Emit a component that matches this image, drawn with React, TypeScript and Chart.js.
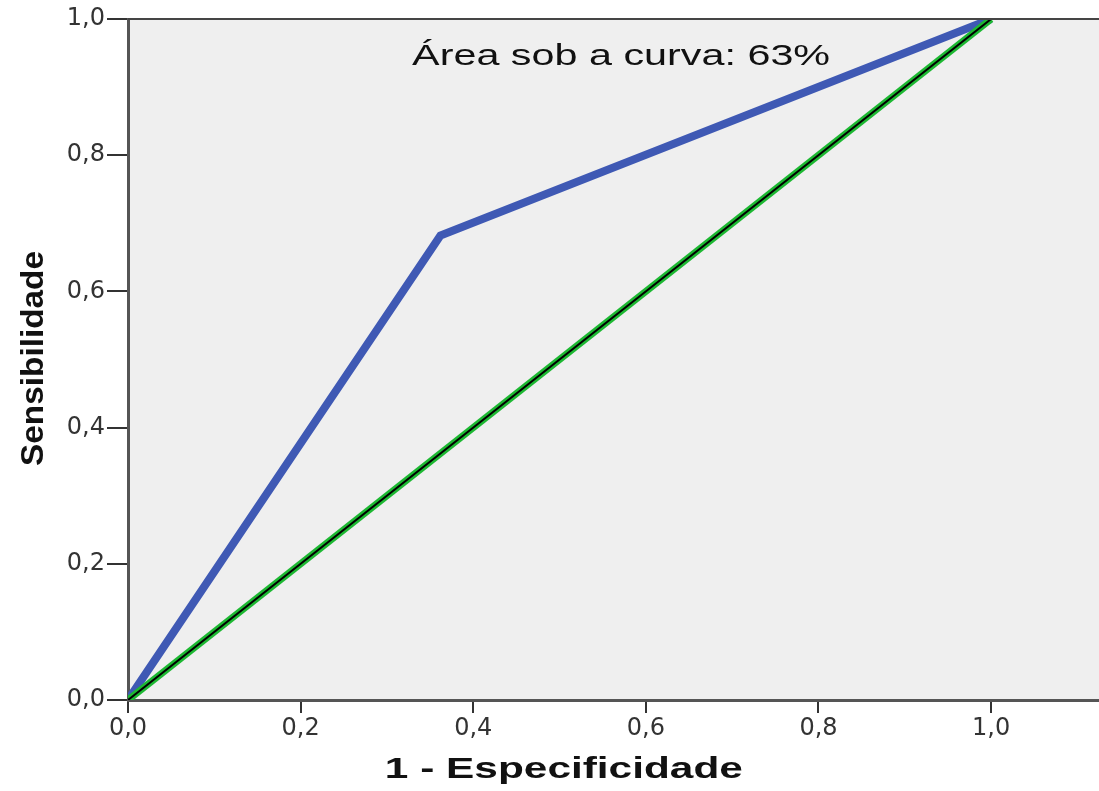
import { useEffect, useRef } from 'react';
import { Chart, registerables } from 'chart.js';

Chart.register(...registerables);

// ---- data ----
const rocX = [0, 0.362, 1];
const rocY = [0, 0.682, 1];
const refX = [0, 1];
const refY = [0, 1];
const axisTicks = [0, 0.2, 0.4, 0.6, 0.8, 1.0];
const xAxisMax = 1.125;
const yAxisMax = 1.0;
const xTitle = '1 - Especificidade';
const yTitle = 'Sensibilidade';
const annotationText = 'Área sob a curva: 63%';

const fmt = (v: number) => v.toFixed(1).replace('.', ',');

function drawStretched(
  ctx: CanvasRenderingContext2D,
  text: string,
  font: string,
  x: number,
  y: number,
  targetW: number,
  rotate: boolean
) {
  ctx.save();
  ctx.font = font;
  ctx.fillStyle = '#111';
  ctx.textAlign = 'center';
  ctx.textBaseline = 'alphabetic';
  const w = ctx.measureText(text).width;
  const sx = targetW / w;
  ctx.translate(x, y);
  if (rotate) ctx.rotate(-Math.PI / 2);
  ctx.scale(sx, 1);
  ctx.fillText(text, 0, 0);
  ctx.restore();
}

const decor = {
  id: 'decor',
  beforeDraw(chart: any) {
    const { ctx, chartArea: a } = chart;
    ctx.save();
    ctx.fillStyle = '#efefef';
    ctx.fillRect(a.left, a.top, a.right - a.left, a.bottom - a.top);
    ctx.restore();
  },
  afterDraw(chart: any) {
    const { ctx, chartArea: a, scales } = chart;
    ctx.save();
    ctx.strokeStyle = '#454545';
    ctx.lineWidth = 2;
    ctx.beginPath();
    ctx.moveTo(a.left, a.top);
    ctx.lineTo(a.right, a.top);
    ctx.stroke();
    ctx.restore();

    const xs = scales.x;
    const ys = scales.y;
    // annotation
    drawStretched(ctx, annotationText, '30px "Liberation Sans", Arial, sans-serif',
      xs.getPixelForValue(0.5713), ys.getPixelForValue(0.932), 418, false);
    // x title
    drawStretched(ctx, xTitle, 'bold 29px "Liberation Sans", Arial, sans-serif',
      xs.getPixelForValue(0.505), 778, 358, false);
    // y title
    drawStretched(ctx, yTitle, 'bold 31px "Liberation Sans", Arial, sans-serif',
      43, ys.getPixelForValue(0.5015), 215, true);
  },
};

export default function App() {
  const ref = useRef<HTMLCanvasElement>(null);
  useEffect(() => {
    document.body.style.margin = '0';
    const canvas = ref.current!;
    const setTicks = (scale: any) => {
      scale.ticks = axisTicks.map((v) => ({ value: v }));
    };
    const chart = new Chart(canvas, {
      type: 'line',
      data: {
        datasets: [
          {
            label: 'ref-black',
            data: refX.map((x, i) => ({ x, y: refY[i] })),
            borderColor: '#000000',
            borderWidth: 2,
            pointRadius: 0,
            order: 0,
          },
          {
            label: 'ref-green',
            data: refX.map((x, i) => ({ x, y: refY[i] })),
            borderColor: '#1db832',
            borderWidth: 7,
            pointRadius: 0,
            order: 1,
          },
          {
            label: 'ROC',
            data: rocX.map((x, i) => ({ x, y: rocY[i] })),
            borderColor: '#3f59b4',
            borderWidth: 8,
            pointRadius: 0,
            borderJoinStyle: 'miter',
            order: 2,
          },
        ],
      },
      options: {
        responsive: false,
        animation: false,
        layout: { padding: { top: 19, right: 0, left: 0, bottom: 0 } },
        plugins: { legend: { display: false }, tooltip: { enabled: false } },
        scales: {
          x: {
            type: 'linear',
            min: 0,
            max: xAxisMax,
            afterBuildTicks: setTicks,
            afterFit: (s: any) => { s.height = 91; },
            grid: { drawOnChartArea: false, tickLength: 13, color: '#333', lineWidth: 2 },
            border: { color: '#555', width: 3 },
            ticks: {
              callback: (v: any) => fmt(Number(v)),
              font: { family: '"DejaVu Sans"', size: 24 },
              color: '#333',
              padding: 1,
              maxRotation: 0,
            },
          },
          y: {
            type: 'linear',
            min: 0,
            max: yAxisMax,
            afterBuildTicks: setTicks,
            afterFit: (s: any) => { s.width = 128; },
            grid: { drawOnChartArea: false, tickLength: 21, color: '#333', lineWidth: 2 },
            border: { color: '#555', width: 3 },
            ticks: {
              callback: (v: any) => fmt(Number(v)),
              font: { family: '"DejaVu Sans"', size: 24 },
              color: '#333',
              padding: 2,
            },
          },
        },
      },
      plugins: [decor],
    });
    return () => chart.destroy();
  }, []);
  return <canvas ref={ref} width={1099} height={791} style={{ display: 'block' }} />;
}
